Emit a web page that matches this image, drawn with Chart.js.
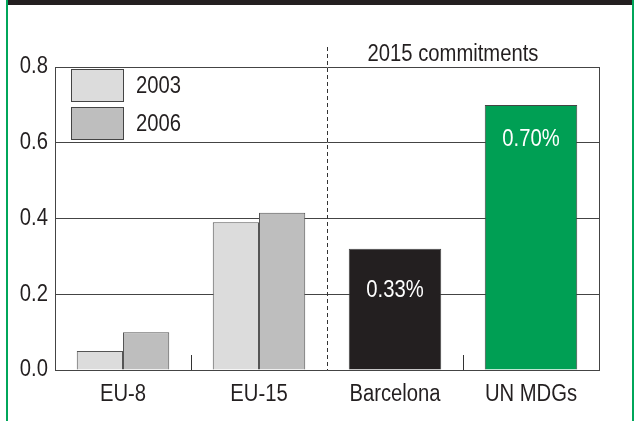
<!DOCTYPE html>
<html>
<head>
<meta charset="utf-8">
<script src="https://cdn.jsdelivr.net/npm/chart.js@4.4.1/dist/chart.umd.min.js"></script>
<style>
  html, body { margin: 0; padding: 0; background: #fff; }
  #frame { position: relative; width: 635px; height: 421px; }
  #topband { position: absolute; left: 6px; right: 2px; top: 0; height: 5px; background: #231f20; }
  #lborder { position: absolute; left: 6px; top: 0; bottom: 0; width: 2px; background: #00a65a; }
  #rborder { position: absolute; left: 632px; top: 0; bottom: 0; width: 2px; background: #00a65a; }
  canvas { position: absolute; left: 0; top: 0; }
</style>
</head>
<body>
<div id="frame">
  <canvas id="chart" width="635" height="421"></canvas>
  <div id="topband"></div>
  <div id="lborder"></div>
  <div id="rborder"></div>
</div>
<script>
// Data
const categories = ['EU-8', 'EU-15', 'Barcelona', 'UN MDGs'];
const values2003 = [0.05, 0.39, null, null];
const values2006 = [0.10, 0.415, null, null];
const commitments = [null, null, 0.32, 0.70];
const commitmentLabels = [null, null, '0.33%', '0.70%'];
const yTicks = [0, 0.2, 0.4, 0.6, 0.8];
const groupTitle = '2015 commitments';

const FONT = "23px 'Liberation Sans', Arial, sans-serif";
const SQUEEZE = 0.88; // condensed look
const INK = '#231f20';
const LABEL_DROP = [0, 0, 42, 35]; // px below bar top for the value labels

// draw text narrowed horizontally
function narrowText(ctx, text, x, y, align, color) {
  ctx.save();
  ctx.font = FONT;
  ctx.fillStyle = color || INK;
  ctx.textAlign = align;
  ctx.textBaseline = 'middle';
  ctx.translate(x, y);
  ctx.scale(SQUEEZE, 1);
  ctx.fillText(text, 0, 0);
  ctx.restore();
}

// Legend, separators, labels and group title
const decorations = {
  id: 'decorations',
  afterDatasetsDraw(chart) {
    const { ctx, chartArea, scales } = chart;
    const x = scales.x, y = scales.y;
    const step = x.getPixelForValue(1) - x.getPixelForValue(0);
    ctx.save();

    // right frame line of plot
    ctx.strokeStyle = '#444';
    ctx.lineWidth = 1;
    ctx.beginPath();
    ctx.moveTo(Math.round(chartArea.right) + 0.5, chartArea.top);
    ctx.lineTo(Math.round(chartArea.right) + 0.5, chartArea.bottom);
    ctx.stroke();

    // small ticks between categories, dashed line before the commitments
    for (let i = 0; i < categories.length - 1; i++) {
      const bx = Math.round(x.getPixelForValue(i) + step / 2) + 0.5;
      ctx.beginPath();
      if (i === 1) {
        ctx.setLineDash([4, 3]);
        ctx.moveTo(bx, 47);
      } else {
        ctx.setLineDash([]);
        ctx.moveTo(bx, chartArea.bottom - 15);
      }
      ctx.lineTo(bx, chartArea.bottom);
      ctx.strokeStyle = '#333';
      ctx.stroke();
    }
    ctx.setLineDash([]);
    ctx.restore();

    // axis labels
    yTicks.forEach(v => narrowText(ctx, v.toFixed(1), chartArea.left - 7, y.getPixelForValue(v), 'right'));
    categories.forEach((c, i) => narrowText(ctx, c, x.getPixelForValue(i), chartArea.bottom + 25, 'center'));

    // group title
    const gx = (x.getPixelForValue(2) + x.getPixelForValue(3)) / 2 - 10;
    narrowText(ctx, groupTitle, gx, 55, 'center');

    // value labels inside commitment bars
    commitments.forEach((v, i) => {
      if (v === null) return;
      narrowText(ctx, commitmentLabels[i], x.getPixelForValue(i), y.getPixelForValue(v) + LABEL_DROP[i], 'center', '#fff');
    });

    // legend
    const lx = chartArea.left + 16;
    [chart.data.datasets[0], chart.data.datasets[1]].forEach((ds, i) => {
      const ly = chartArea.top + 2 + i * 38;
      ctx.save();
      ctx.fillStyle = ds.backgroundColor;
      ctx.fillRect(lx, ly, 53, 33);
      ctx.strokeStyle = '#444';
      ctx.lineWidth = 1;
      ctx.strokeRect(lx + 0.5, ly + 0.5, 52, 32);
      ctx.restore();
      narrowText(ctx, ds.label, lx + 65, ly + 18, 'left');
    });
  }
};

new Chart(document.getElementById('chart'), {
  type: 'bar',
  data: {
    labels: categories,
    datasets: [{
      label: '2003',
      data: values2003,
      backgroundColor: '#dcdcdc',
      borderColor: '#555',
      borderWidth: 1
    }, {
      label: '2006',
      data: values2006,
      backgroundColor: '#bebebe',
      borderColor: '#555',
      borderWidth: 1
    }, {
      label: '2015',
      data: commitments,
      backgroundColor: ['#231f20', '#231f20', '#231f20', '#009f54'],
      borderColor: '#444',
      borderWidth: 1
    }]
  },
  options: {
    responsive: false,
    animation: false,
    layout: { padding: { top: 67, right: 36, left: 0, bottom: 0 } },
    datasets: {
      bar: {
        skipNull: true,
        categoryPercentage: 0.68,
        barPercentage: 1.0,
        borderSkipped: 'bottom'
      }
    },
    plugins: {
      legend: { display: false },
      tooltip: { enabled: false }
    },
    scales: {
      x: {
        afterFit(s) { s.height = 51; },
        grid: { display: false, drawTicks: false },
        border: { color: '#444', width: 1 },
        ticks: { display: false }
      },
      y: {
        min: 0,
        max: 0.8,
        afterFit(s) { s.width = 55; },
        afterBuildTicks(s) { s.ticks = yTicks.map(v => ({ value: v })); },
        grid: { color: '#444', lineWidth: 1, drawTicks: false },
        border: { color: '#444', width: 1 },
        ticks: { display: false }
      }
    }
  },
  plugins: [decorations]
});
</script>
</body>
</html>
